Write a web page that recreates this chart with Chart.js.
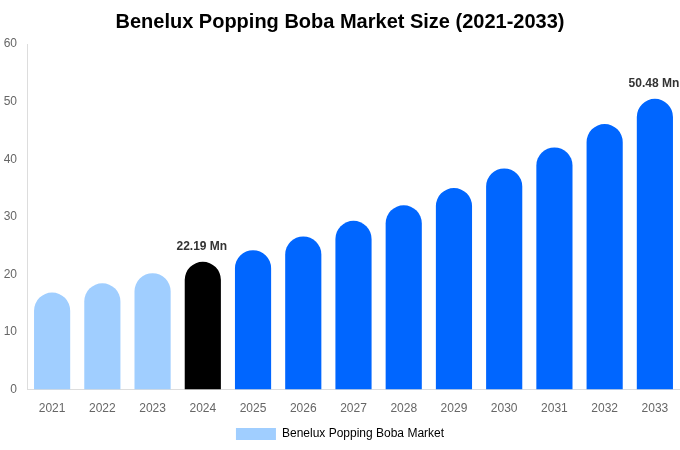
<!DOCTYPE html>
<html>
<head>
<meta charset="utf-8">
<script src="https://cdn.jsdelivr.net/npm/chart.js@4"></script>
<style>
  html, body { margin: 0; padding: 0; background: #fff; }
  #wrap { width: 680px; height: 450px; }
</style>
</head>
<body>
<div id="wrap"><canvas id="myChart"></canvas></div>
<script>
const years = ['2021', '2022', '2023', '2024', '2025', '2026', '2027', '2028', '2029', '2030', '2031', '2032', '2033'];
const marketSize = [16.85, 18.45, 20.2, 22.19, 24.2, 26.6, 29.3, 32.0, 35.0, 38.4, 42.05, 46.1, 50.48];
const yTicks = [0, 10, 20, 30, 40, 50, 60];
const labeledYears = ['2024', '2033'];

document.addEventListener('DOMContentLoaded', function() {
    const barColors = years.map(function(y) {
        if (y < '2024') return 'rgb(160, 206, 255)';
        if (y === '2024') return '#000000';
        return '#0066ff';
    });

    // draws the "xx.xx Mn" labels above selected bars
    const valueLabels = {
        id: 'valueLabels',
        afterDatasetsDraw: function(chart) {
            const ctx = chart.ctx;
            const meta = chart.getDatasetMeta(0);
            ctx.save();
            ctx.font = 'bold 12px "Liberation Sans", Arial, sans-serif';
            ctx.fillStyle = '#333';
            ctx.textAlign = 'center';
            ctx.textBaseline = 'bottom';
            years.forEach(function(y, i) {
                if (labeledYears.indexOf(y) === -1) return;
                const bar = meta.data[i];
                ctx.fillText(marketSize[i].toFixed(2) + ' Mn', bar.x - 1, bar.y - 9);
            });
            ctx.restore();
        }
    };

    const config = {
        type: 'bar',
        data: {
            labels: years,
            datasets: [{
                label: 'Benelux Popping Boba Market',
                data: marketSize,
                backgroundColor: barColors,
                borderRadius: 30,
                borderSkipped: 'start'
            }]
        },
        options: {
            responsive: true,
            maintainAspectRatio: false,
            animation: false,
            layout: { padding: 0 },
            font: { family: '"Liberation Sans", Arial, sans-serif' },
            scales: {
                x: {
                    grid: { display: false },
                    border: { color: '#ddd' },
                    ticks: { color: '#666', font: { size: 12 }, padding: 4 }
                },
                y: {
                    min: 0,
                    max: 60,
                    afterBuildTicks: function(axis) {
                        axis.ticks = yTicks.map(function(v) { return { value: v }; });
                    },
                    afterFit: function(axis) {
                        axis.width = 27;
                    },
                    grid: { display: false },
                    border: { color: '#ddd' },
                    ticks: { color: '#666', font: { size: 12 }, padding: 2 }
                }
            },
            plugins: {
                title: {
                    display: true,
                    text: 'Benelux Popping Boba Market Size (2021-2033)',
                    color: '#000',
                    font: { size: 20, weight: 'bold', family: '"Liberation Sans", Arial, sans-serif' },
                    padding: { top: 10, bottom: 10 }
                },
                legend: {
                    position: 'bottom',
                    labels: {
                        color: '#666',
                        boxWidth: 40,
                        boxHeight: 12,
                        padding: 8,
                        font: { size: 12, family: '"Liberation Sans", Arial, sans-serif' },
                        generateLabels: function(chart) {
                            return [{
                                text: chart.data.datasets[0].label,
                                fillStyle: 'rgb(160, 206, 255)',
                                strokeStyle: 'rgb(160, 206, 255)',
                                lineWidth: 0,
                                datasetIndex: 0
                            }];
                        }
                    }
                },
                tooltip: { enabled: false }
            }
        },
        plugins: [valueLabels]
    };

    const ctx = document.getElementById('myChart').getContext('2d');
    new Chart(ctx, config);
});
</script>
</body>
</html>
